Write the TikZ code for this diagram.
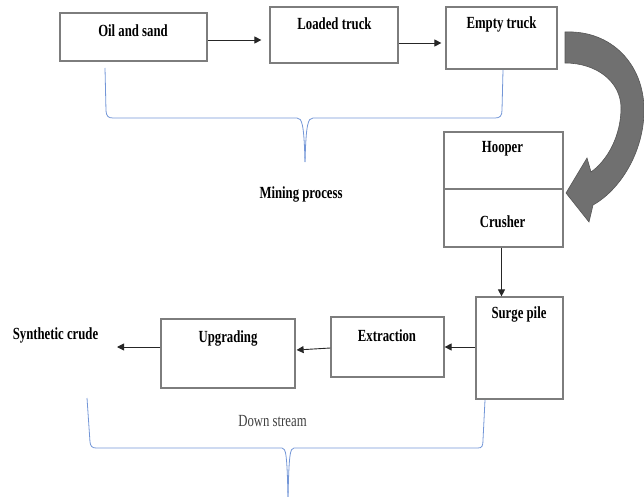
\documentclass[tikz,border=0pt]{standalone}
\usepackage{fontspec}
\setmainfont[FakeStretch=0.75]{Liberation Serif}
\usetikzlibrary{arrows.meta}
\definecolor{boxgray}{RGB}{125,125,125}
\definecolor{bracecol}{RGB}{115,150,215}
\definecolor{bigfill}{RGB}{112,112,112}
\definecolor{bigedge}{RGB}{85,85,85}
\begin{document}
\begin{tikzpicture}[x=1pt,y=-1pt,
  box/.style={draw=boxgray, line width=1.2pt, fill=white, inner sep=0pt},
  lbl/.style={anchor=base, inner sep=0pt, font=\bfseries\fontsize{17}{20}\selectfont},
  plainlbl/.style={anchor=base, inner sep=0pt, font=\fontsize{17}{20}\selectfont, text=black!75},
  flow/.style={draw=black!85, line width=0.9pt, -{Triangle[length=7pt,width=7pt]}},
  bracket/.style={draw=bracecol, line width=0.8pt},
  bigarrow/.style={fill=bigfill, draw=bigedge, line width=0.6pt}]
\useasboundingbox (0,0) rectangle (644,497);

% boxes
\node[box, minimum width=147pt, minimum height=48pt] (oil) at (133.5,37) {};
\node[box, minimum width=128pt, minimum height=56pt] (loaded) at (334,35) {};
\node[box, minimum width=111pt, minimum height=62pt] (empty) at (501.5,38) {};
\node[box, minimum width=119pt, minimum height=115pt] (hop) at (503.5,189.5) {};
\node[box, minimum width=87pt, minimum height=102pt] (surge) at (519.5,348) {};
\node[box, minimum width=113pt, minimum height=60pt] (ext) at (387.5,347) {};
\node[box, minimum width=134pt, minimum height=69pt] (upg) at (228,353.5) {};
\draw[draw=boxgray, line width=1.2pt] (hop.west |- 0,189) -- (hop.east |- 0,189);

% texts
\node[lbl] (oilT) at (133,37) {Oil and sand};
\node[lbl] (loadedT) at (334.5,30) {Loaded truck};
\node[lbl] (emptyT) at (501.5,29) {Empty truck};
\node[lbl] (hopT) at (502.5,153) {Hooper};
\node[lbl] (crushT) at (502.5,227) {Crusher};
\node[lbl] (surgeT) at (519,318) {Surge pile};
\node[lbl] (extT) at (387,341) {Extraction};
\node[lbl] (upgT) at (228,342) {Upgrading};
\node[lbl] (synT) at (55.5,339) {Synthetic crude};
\node[lbl] (minT) at (301,198) {Mining process};
\node[plainlbl] (downT) at (272.5,426) {Down stream};
\coordinate (synEnd) at (117,347);

% connectors
\draw[flow] ([yshift=-3pt]oil.east) -- ([yshift=-5pt,xshift=-8pt]loaded.west);
\draw[flow] ([yshift=-8pt]loaded.east) -- ([yshift=-5pt,xshift=-4pt]empty.west);
\draw[flow] ([xshift=-2pt]hop.south) -- ([xshift=-18pt]surge.north);
\draw[flow] ([yshift=1pt]surge.west) -- (ext.east);
\draw[flow] ([yshift=-1pt]ext.west) -- ([yshift=3.5pt,xshift=1pt]upg.east);
\draw[flow] ([yshift=6.5pt]upg.west) -- (synEnd);

% big curved arrow
\path[bigarrow] (565,32) .. controls (612,30) and (644,65) .. (644,110)
  .. controls (644,152) and (620,190) .. (593,205) -- (589,222) -- (566,193)
  -- (587,158) -- (591,172) .. controls (608,160) and (621,135) .. (621,108)
  .. controls (621,82) and (597,63) .. (565,63) -- cycle;

% braces
\draw[bracket] (105,68) -- (106,111) .. controls (106.5,116) and (108,118) .. (113,118)
  -- (297,118) .. controls (302,118) and (304,124) .. (305,162);
\draw[bracket] (305,162) .. controls (306,124) and (308,118) .. (313,118)
  -- (495,118) .. controls (500,118) and (502,116) .. (502,110) -- (503,70);
\draw[bracket] (87,398) -- (90,442) .. controls (90.5,446) and (92,448) .. (96,448)
  -- (282,448) .. controls (286,448) and (287,455) .. (288,497);
\draw[bracket] (288,497) .. controls (289,455) and (290,448) .. (294,448)
  -- (478,448) .. controls (482,448) and (483,446) .. (483,440) -- (485,400);
\end{tikzpicture}
\end{document}
